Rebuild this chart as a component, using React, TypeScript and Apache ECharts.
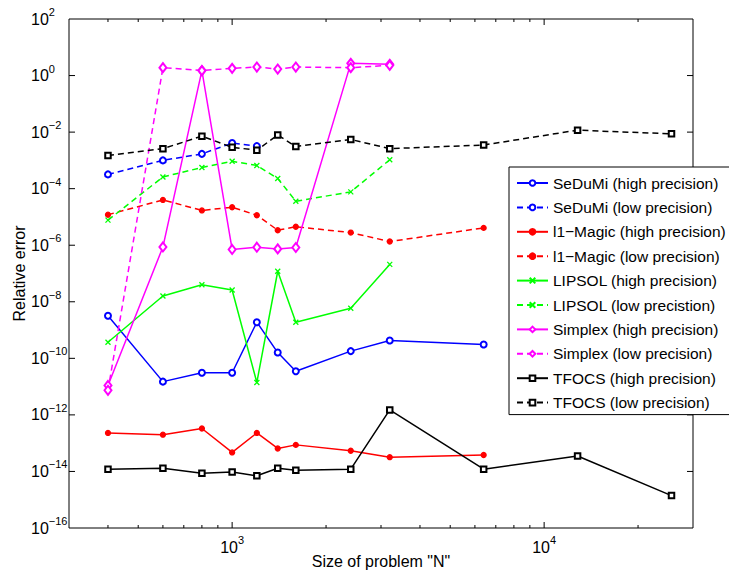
import React, { useEffect, useRef } from 'react';
import * as echarts from 'echarts';

const FONT = '"Liberation Sans", Arial, Helvetica, sans-serif';

// Problem sizes N
const N_ALL = [400, 600, 800, 1000, 1200, 1400, 1600, 2400, 3200, 6400, 12800, 25600];

// Relative errors
const SEDUMI_HIGH = [3.2e-9, 1.5e-11, 3.1e-11, 3.1e-11, 1.9e-9, 1.6e-10, 3.5e-11, 1.8e-10, 4.3e-10, 3.1e-10];
const SEDUMI_LOW = [3.2e-4, 1.0e-3, 1.7e-3, 4.1e-3, 3.2e-3];
const L1_HIGH = [2.3e-13, 2.0e-13, 3.3e-13, 4.7e-14, 2.3e-13, 6.5e-14, 8.7e-14, 5.4e-14, 3.2e-14, 3.8e-14];
const L1_LOW = [1.2e-5, 4.0e-5, 1.7e-5, 2.2e-5, 1.15e-5, 3.4e-6, 4.5e-6, 2.8e-6, 1.35e-6, 4.1e-6];
const LIPSOL_HIGH = [3.7e-10, 1.6e-8, 4.0e-8, 2.6e-8, 1.4e-11, 1.2e-7, 1.9e-9, 5.9e-9, 2.1e-7];
const LIPSOL_LOW = [7.7e-6, 2.6e-4, 5.6e-4, 9.3e-4, 6.6e-4, 2.3e-4, 3.6e-5, 7.7e-5, 1.05e-3];
const SIMPLEX_HIGH = [1.1e-11, 8.7e-7, 1.5, 7.1e-7, 8.5e-7, 7.4e-7, 8.3e-7, 2.7, 2.5];
const SIMPLEX_LOW = [7.4e-12, 1.9, 1.5, 1.8, 2.0, 1.7, 2.0, 1.9, 2.3];
const TFOCS_HIGH = [1.2e-14, 1.3e-14, 8.7e-15, 9.5e-15, 7.0e-15, 1.3e-14, 1.1e-14, 1.2e-14, 1.5e-12, 1.2e-14, 3.5e-14, 1.4e-15];
const TFOCS_LOW = [1.5e-3, 2.6e-3, 7.2e-3, 2.9e-3, 2.3e-3, 7.9e-3, 3.1e-3, 5.5e-3, 2.6e-3, 3.5e-3, 1.17e-2, 8.7e-3];

const SERIES_NAMES = [
  'SeDuMi (high precision)',
  'SeDuMi (low precision)',
  'l1\u2212Magic (high precision)',
  'l1\u2212Magic (low precision)',
  'LIPSOL (high precision)',
  'LIPSOL (low precistion)',
  'Simplex (high precision)',
  'Simplex (low precision)',
  'TFOCS (high precision)',
  'TFOCS (low precision)',
];

// Axis ticks
const X_MIN = 300;
const X_MAX = 30000;
const Y_MIN = 1e-16;
const Y_MAX = 1e2;
const X_MAJOR_TICKS = [1000, 10000];
const X_MINOR_TICKS = [400, 500, 600, 700, 800, 900, 2000, 3000, 4000, 5000, 6000, 7000, 8000, 9000, 20000];
const Y_MAJOR_TICKS = [1, 1e-2, 1e-4, 1e-6, 1e-8, 1e-10, 1e-12, 1e-14];

const X_SYMBOL = 'path://M0,0L10,10M10,0L0,10';

const STYLES = [
  { values: SEDUMI_HIGH, color: '#0000ff', dashed: false, symbol: 'emptyCircle', size: 6 },
  { values: SEDUMI_LOW, color: '#0000ff', dashed: true, symbol: 'emptyCircle', size: 6 },
  { values: L1_HIGH, color: '#ff0000', dashed: false, symbol: 'circle', size: 5 },
  { values: L1_LOW, color: '#ff0000', dashed: true, symbol: 'circle', size: 5 },
  { values: LIPSOL_HIGH, color: '#00ff00', dashed: false, symbol: X_SYMBOL, size: 5 },
  { values: LIPSOL_LOW, color: '#00ff00', dashed: true, symbol: X_SYMBOL, size: 5 },
  { values: SIMPLEX_HIGH, color: '#ff00ff', dashed: false, symbol: 'emptyDiamond', size: [7, 9] },
  { values: SIMPLEX_LOW, color: '#ff00ff', dashed: true, symbol: 'emptyDiamond', size: [7, 9] },
  { values: TFOCS_HIGH, color: '#000000', dashed: false, symbol: 'emptyRect', size: 5.5 },
  { values: TFOCS_LOW, color: '#000000', dashed: true, symbol: 'emptyRect', size: 5.5 },
];

function powLabel(v: number): string {
  const e = Math.log10(v);
  const r = Math.round(e);
  if (Math.abs(e - r) > 1e-6) return '';
  const s = r < 0 ? '\u2212' + Math.abs(r) : String(r);
  return '{b|10}{s|' + s + '}';
}

const RICH = {
  b: { fontSize: 16, fontFamily: FONT, color: '#000', lineHeight: 26 },
  s: { fontSize: 11, fontFamily: FONT, color: '#000', lineHeight: 12, padding: [0, 0, 14, 0] },
};

export default function App() {
  const ref = useRef<HTMLDivElement>(null);

  useEffect(() => {
    if (!ref.current) return;
    const chart = echarts.init(ref.current, null, { renderer: 'svg' });

    const lineSeries = SERIES_NAMES.map((name, k) => {
      const st = STYLES[k];
      return {
        name,
        type: 'line',
        data: st.values.map((v, i) => [N_ALL[i], v]),
        color: st.color,
        symbol: st.symbol,
        symbolSize: st.size,
        showSymbol: true,
        lineStyle: { color: st.color, width: 1.5, type: st.dashed ? [6, 4] : 'solid' },
        itemStyle: { color: st.color, borderColor: st.color, borderWidth: 1.3 },
        z: 3,
      };
    });

    const tickData = [
      ...X_MAJOR_TICKS.map((v) => [v, Y_MAX]),
      ...X_MINOR_TICKS.map((v) => [v, Y_MAX]),
      ...Y_MAJOR_TICKS.map((v) => [X_MIN, v]),
    ];
    const nXMaj = X_MAJOR_TICKS.length;
    const nX = X_MAJOR_TICKS.length + X_MINOR_TICKS.length;

    const tickSeries = {
      type: 'custom',
      silent: true,
      clip: false,
      z: 2,
      data: tickData,
      encode: { x: 0, y: 1 },
      renderItem: (params: any, api: any) => {
        const i = params.dataIndex;
        const style = { stroke: '#000', lineWidth: 1 };
        const children: any[] = [];
        if (i < nX) {
          const v = api.value(0);
          const L = i < nXMaj ? 6 : 3;
          const b = api.coord([v, Y_MIN]);
          const t = api.coord([v, Y_MAX]);
          children.push({ type: 'line', shape: { x1: b[0], y1: b[1], x2: b[0], y2: b[1] - L }, style });
          children.push({ type: 'line', shape: { x1: t[0], y1: t[1], x2: t[0], y2: t[1] + L }, style });
        } else {
          const v = api.value(1);
          const L = 6;
          const l = api.coord([X_MIN, v]);
          const r = api.coord([X_MAX, v]);
          children.push({ type: 'line', shape: { x1: l[0], y1: l[1], x2: l[0] + L, y2: l[1] }, style });
          children.push({ type: 'line', shape: { x1: r[0], y1: r[1], x2: r[0] - L, y2: r[1] }, style });
        }
        return { type: 'group', children };
      },
    };

    chart.setOption({
      animation: false,
      textStyle: { fontFamily: FONT },
      grid: {
        left: 69,
        top: 19,
        right: 36,
        bottom: 43,
        containLabel: false,
        outerBoundsMode: 'none',
        show: true,
        borderColor: '#000',
        borderWidth: 1,
        backgroundColor: 'transparent',
      },
      xAxis: {
        type: 'log',
        logBase: 10,
        min: X_MIN,
        max: X_MAX,
        name: 'Size of problem "N"',
        nameLocation: 'middle',
        nameGap: 25,
        nameMoveOverlap: false,
        nameTextStyle: { fontSize: 16, color: '#000', fontFamily: FONT },
        axisLine: { show: false },
        axisTick: { show: false },
        splitLine: { show: false },
        minorTick: { show: false },
        axisLabel: {
          margin: 6,
          formatter: (v: number) => powLabel(v),
          rich: RICH,
        },
      },
      yAxis: {
        type: 'log',
        logBase: 100,
        min: Y_MIN,
        max: Y_MAX,
        name: 'Relative error',
        nameLocation: 'middle',
        nameGap: 42,
        nameMoveOverlap: false,
        nameTextStyle: { fontSize: 16, color: '#000', fontFamily: FONT },
        axisLine: { show: false },
        axisTick: { show: false },
        splitLine: { show: false },
        axisLabel: {
          margin: 38,
          align: 'left',
          formatter: (v: number) => powLabel(v),
          rich: RICH,
        },
      },
      legend: {
        orient: 'vertical',
        left: 509,
        top: 167,
        align: 'left',
        itemWidth: 31,
        itemHeight: 7,
        itemGap: 8.4,
        padding: [8, 5, 4, 7],
        backgroundColor: '#fff',
        borderColor: '#000',
        borderWidth: 1,
        borderRadius: 0,
        selectedMode: false,
        textStyle: { fontSize: 15.5, color: '#000', fontFamily: FONT, lineHeight: 16 },
        data: SERIES_NAMES,
      },
      series: [tickSeries, ...lineSeries],
    });

    return () => chart.dispose();
  }, []);

  return (
    <div
      ref={ref}
      style={{ position: 'absolute', left: 0, top: 0, width: 729, height: 571, background: '#fff' }}
    />
  );
}
